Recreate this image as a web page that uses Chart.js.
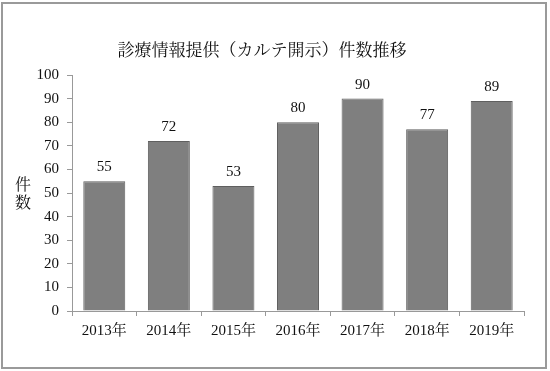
<!DOCTYPE html>
<html>
<head>
<meta charset="utf-8">
<script src="https://cdn.jsdelivr.net/npm/chart.js@4"></script>
<style>
  html, body { margin: 0; padding: 0; background: #fff; }
  #wrap { width: 550px; height: 371px; }
</style>
</head>
<body>
<div id="wrap"><canvas id="myChart" width="550" height="371"></canvas></div>
<script>
// chart data
var years = ["2013年", "2014年", "2015年", "2016年", "2017年", "2018年", "2019年"];
var counts = [55, 72, 53, 80, 90, 77, 89];
var yTicks = [0, 10, 20, 30, 40, 50, 60, 70, 80, 90, 100];
var chartTitle = "診療情報提供（カルテ開示）件数推移";
var yTitle = ["件", "数"];

var fontFamily = '"Liberation Serif", "Noto Serif CJK JP", "Noto Sans CJK JP", serif';

// frame, title, y-axis caption and value labels
const decorPlugin = {
  id: "decor",
  beforeDraw(chart) {
    const c = chart.ctx;
    c.save();
    c.fillStyle = "#fff";
    c.fillRect(0, 0, chart.width, chart.height);
    c.strokeStyle = "#9a9a9a";
    c.lineWidth = 2;
    c.strokeRect(2, 3, 544, 365);
    c.restore();
  },
  afterDatasetsDraw(chart) {
    const c = chart.ctx;
    c.save();
    c.fillStyle = "#111";
    c.textAlign = "center";
    c.textBaseline = "middle";
    c.font = "17px " + fontFamily;
    c.fillText(chartTitle, 262, 52);
    c.font = "16px " + fontFamily;
    yTitle.forEach((ch, i) => c.fillText(ch, 23, 186 + i * 18));

    c.font = "15px " + fontFamily;
    c.textBaseline = "alphabetic";
    const meta = chart.getDatasetMeta(0);
    meta.data.forEach((bar, i) => {
      c.fillText(String(counts[i]), bar.x, bar.y - 10);
    });
    c.restore();
  }
};

const ctx = document.getElementById("myChart");
new Chart(ctx, {
  type: "bar",
  data: {
    labels: years,
    datasets: [{
      data: counts,
      backgroundColor: "#7f7f7f",
      borderColor: "#5f5f5f",
      borderWidth: 1,
      categoryPercentage: 1.0,
      barPercentage: 0.65
    }]
  },
  options: {
    responsive: false,
    animation: false,
    devicePixelRatio: 1,
    layout: { padding: { top: 75, right: 26, left: 0, bottom: 0 } },
    plugins: {
      legend: { display: false },
      title: { display: false },
      tooltip: { enabled: false }
    },
    scales: {
      x: {
        offset: true,
        grid: { offset: true, drawOnChartArea: false, tickLength: 5, color: "#999" },
        border: { color: "#999" },
        ticks: { color: "#111", padding: 6, font: { family: fontFamily, size: 15 }, maxRotation: 0 },
        afterFit(scale) { scale.height = 60; }
      },
      y: {
        min: 0,
        max: 100,
        afterBuildTicks(scale) { scale.ticks = yTicks.map(v => ({ value: v })); },
        grid: { drawOnChartArea: false, tickLength: 5, color: "#999" },
        border: { color: "#999" },
        ticks: { color: "#111", padding: 8, font: { family: fontFamily, size: 15 } },
        afterFit(scale) { scale.width = 72; }
      }
    }
  },
  plugins: [decorPlugin]
});
</script>
</body>
</html>
